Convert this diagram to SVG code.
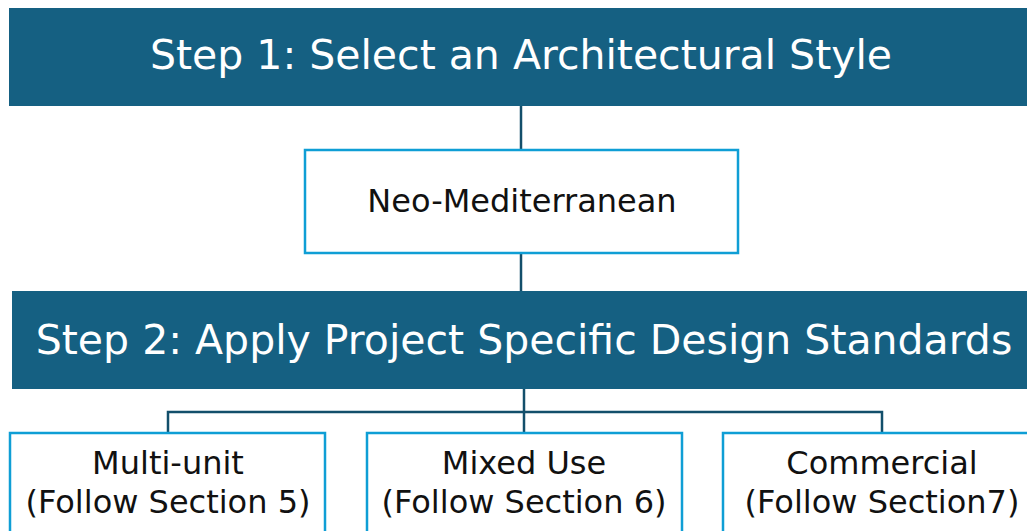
<svg xmlns="http://www.w3.org/2000/svg" width="1027" height="531" viewBox="0 0 1027 531">
<style>
.banner{fill:#156082;}
.box{fill:#ffffff;stroke:#0F9ED5;stroke-width:2.5;}
.conn{fill:none;stroke:#134f6b;stroke-width:2.5;}
.ht{font-family:"DejaVu Sans","Liberation Sans",Arial,sans-serif;font-size:41px;fill:#ffffff;text-anchor:middle;}
.bt{font-family:"DejaVu Sans","Liberation Sans",Arial,sans-serif;font-size:32px;fill:#111111;text-anchor:middle;}
</style>
<rect width="1027" height="531" fill="#ffffff"/>
<g id="connectors">
<line class="conn" x1="521" y1="106" x2="521" y2="150"/>
<line class="conn" x1="521" y1="253" x2="521" y2="291"/>
<line class="conn" x1="524" y1="389" x2="524" y2="433"/>
<polyline class="conn" points="168,433 168,412 882,412 882,433"/>
</g>
<g id="step1">
<rect class="banner" x="9" y="8" width="1030" height="98"/>
<text class="ht" x="521" y="69">Step 1: Select an Architectural Style</text>
</g>
<g id="neo">
<rect class="box" x="305" y="150" width="433" height="103"/>
<text class="bt" x="522" y="212">Neo-Mediterranean</text>
</g>
<g id="step2">
<rect class="banner" x="12" y="291" width="1030" height="98"/>
<text class="ht" x="524" y="354">Step 2: Apply Project Specific Design Standards</text>
</g>
<g id="multi">
<rect class="box" x="10" y="433" width="315" height="110"/>
<text class="bt" x="168" y="474">Multi-unit</text>
<text class="bt" x="168" y="513">(Follow Section 5)</text>
</g>
<g id="mixed">
<rect class="box" x="367" y="433" width="315" height="110"/>
<text class="bt" x="524" y="474">Mixed Use</text>
<text class="bt" x="524" y="513">(Follow Section 6)</text>
</g>
<g id="commercial">
<rect class="box" x="723" y="433" width="320" height="110"/>
<text class="bt" x="882" y="474">Commercial</text>
<text class="bt" x="882" y="513">(Follow Section7)</text>
</g>
</svg>
